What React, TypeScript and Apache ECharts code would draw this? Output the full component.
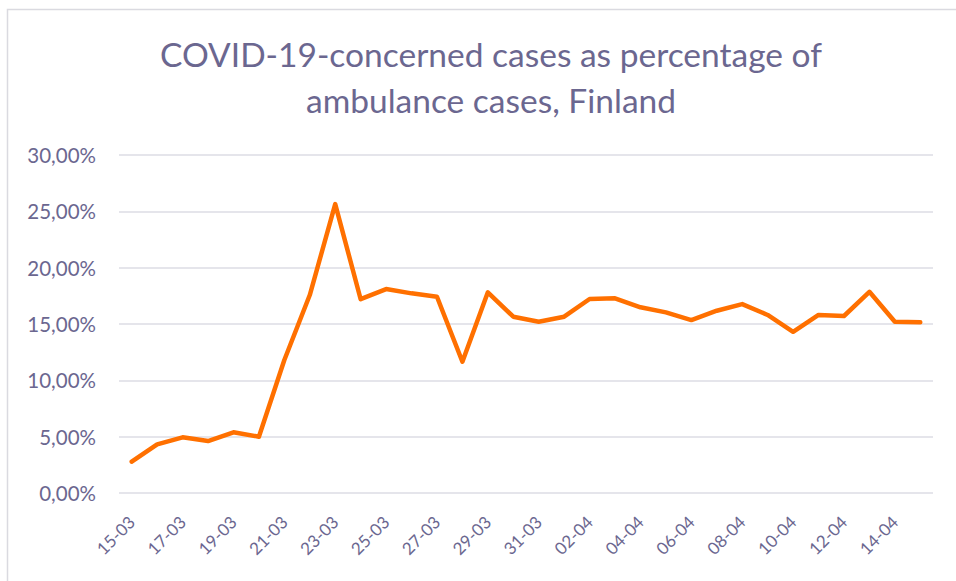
import React, { useEffect, useRef } from "react";
import * as echarts from "echarts";

const dates = [
  "15-03", "16-03", "17-03", "18-03", "19-03", "20-03", "21-03", "22-03",
  "23-03", "24-03", "25-03", "26-03", "27-03", "28-03", "29-03", "30-03",
  "31-03", "01-04", "02-04", "03-04", "04-04", "05-04", "06-04", "07-04",
  "08-04", "09-04", "10-04", "11-04", "12-04", "13-04", "14-04", "15-04",
];

const percentages = [
  2.78, 4.32, 4.94, 4.61, 5.39, 5.0, 11.8, 17.57,
  25.64, 17.2, 18.1, 17.72, 17.42, 11.65, 17.81, 15.65,
  15.2, 15.65, 17.22, 17.28, 16.48, 16.03, 15.35, 16.18,
  16.77, 15.8, 14.31, 15.8, 15.71, 17.86, 15.2, 15.15,
];

const yTicks = { min: 0, max: 30, interval: 5 };

const textColor = "#6B6790";

export default function App() {
  const ref = useRef<HTMLDivElement>(null);
  useEffect(() => {
    if (!ref.current) return;
    const chart = echarts.init(ref.current, undefined, { renderer: "svg" });
    chart.setOption({
      animation: false,
      backgroundColor: "#ffffff",
      title: {
        text: "COVID-19-concerned cases as percentage of\nambulance cases, Finland",
        left: 486,
        textAlign: "center",
        top: 26,
        textStyle: {
          color: textColor,
          fontFamily: "Lato",
          fontWeight: "normal",
          fontSize: 33.5,
          lineHeight: 46,
        },
      },
      graphic: [
        {
          type: "rect",
          shape: { x: 7.5, y: 9.5, width: 1000, height: 1000 },
          style: { fill: "none", stroke: "#DADAE0", lineWidth: 1.5 },
          silent: true,
        },
      ],
      grid: { left: 119, right: 23, top: 155, bottom: 88 },
      xAxis: {
        type: "category",
        data: dates,
        boundaryGap: true,
        axisLine: { show: false },
        axisTick: { show: false },
        axisLabel: {
          interval: 1,
          rotate: 45,
          color: textColor,
          fontFamily: "Lato",
          fontSize: 17,
          margin: 26,
        },
      },
      yAxis: {
        type: "value",
        min: yTicks.min,
        max: yTicks.max,
        interval: yTicks.interval,
        axisLine: { show: false },
        axisTick: { show: false },
        splitLine: { lineStyle: { color: "#DCDCE4", width: 1.5 } },
        axisLabel: {
          color: textColor,
          fontFamily: "Lato",
          fontSize: 20.5,
          margin: 23,
          formatter: (v: number) => v.toFixed(2).replace(".", ",") + "%",
        },
      },
      series: [
        {
          type: "line",
          data: percentages,
          showSymbol: false,
          symbol: "none",
          lineStyle: { color: "#FF7000", width: 4.5, join: "round", cap: "round" },
        },
      ],
    });
    return () => chart.dispose();
  }, []);
  return (
    <div
      ref={ref}
      style={{ position: "fixed", left: 0, top: 0, width: 956, height: 581 }}
    />
  );
}
